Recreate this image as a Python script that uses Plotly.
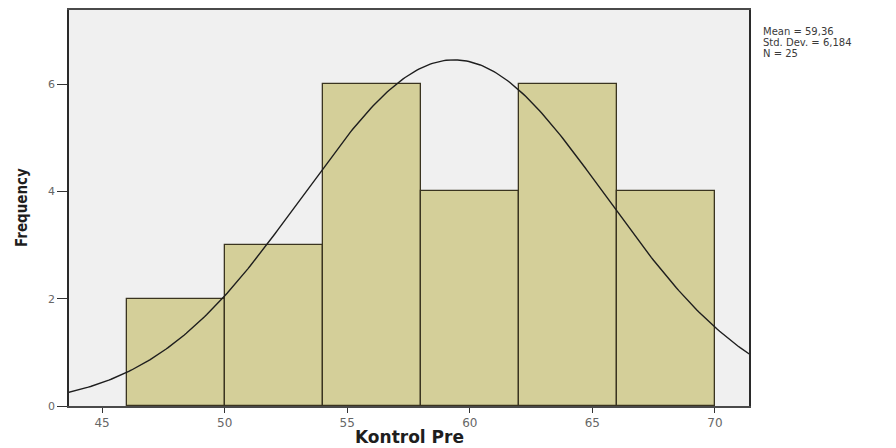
import numpy as np
import plotly.graph_objects as go

# Histogram bins (lower edges, width 4) and frequencies
bin_starts = [46, 50, 54, 58, 62, 66]
bin_width = 4
counts = [2, 3, 6, 4, 6, 4]

# Summary statistics shown beside the plot
mean_val = 59.36
std_val = 6.184
n_val = 25

x_ticks = [45, 50, 55, 60, 65, 70]
y_ticks = [0, 2, 4, 6]

centers = [s + bin_width / 2 for s in bin_starts]

# Normal curve scaled to the histogram (N * bin width * pdf)
xc = np.linspace(43.6, 71.4, 300)
yc = n_val * bin_width / (std_val * np.sqrt(2 * np.pi)) * np.exp(-0.5 * ((xc - mean_val) / std_val) ** 2)

fig = go.Figure()
fig.add_trace(go.Bar(
    x=centers, y=counts, width=bin_width,
    marker=dict(color="#D4CF99", line=dict(color="#3a3420", width=1.3)),
    hoverinfo="skip",
))
fig.add_trace(go.Scatter(
    x=xc, y=yc, mode="lines",
    line=dict(color="#1e1e1e", width=1.4),
    hoverinfo="skip",
))


def fmt(v):
    return str(v).replace(".", ",")


stat_lines = [f"Mean = {fmt(mean_val)}", f"Std. Dev. = {fmt(std_val)}", f"N = {n_val}"]
for i, line in enumerate(stat_lines):
    fig.add_annotation(
        xref="paper", yref="paper", x=1, y=1, xanchor="left", yanchor="middle",
        xshift=12, yshift=-(21.5 + 11 * i),
        text=line, showarrow=False, align="left",
        font=dict(family="DejaVu Sans", size=10, color="#3a3a3a"),
    )

# Axis titles
fig.add_annotation(
    xref="paper", yref="paper", x=0.5, y=0, xanchor="center", yanchor="middle",
    xshift=0, yshift=-31, text="<b>Kontrol Pre</b>", showarrow=False,
    font=dict(family="DejaVu Sans", size=17, color="#1e1e1e"),
)
fig.add_annotation(
    xref="paper", yref="paper", x=0, y=0.5, xanchor="center", yanchor="middle",
    xshift=-47, textangle=-90, text="<b>Frequency</b>", showarrow=False,
    font=dict(family="DejaVu Sans Condensed, Liberation Sans, sans-serif", size=15, color="#1e1e1e"),
)

fig.update_layout(
    width=896, height=448,
    margin=dict(l=69, r=147, t=10, b=42),
    paper_bgcolor="white",
    plot_bgcolor="#F0F0F0",
    showlegend=False,
    bargap=0,
    xaxis=dict(
        range=[43.65, 71.39], tickvals=x_ticks, ticks="outside", ticklen=5,
        tickcolor="#333333", showgrid=False, zeroline=False, automargin=False,
        showline=True, linecolor="#4a4a4a", linewidth=1.5, mirror=True,
        tickfont=dict(family="DejaVu Sans", size=12, color="#666666"),
    ),
    yaxis=dict(
        range=[0, 7.38], tickvals=y_ticks, ticks="outside", ticklen=10,
        tickcolor="#333333", showgrid=False, zeroline=False, automargin=False,
        showline=True, linecolor="#2a2a2a", linewidth=1.5, mirror=True,
        tickfont=dict(family="DejaVu Sans", size=11, color="#666666"),
    ),
)

fig.write_html("out.html")
